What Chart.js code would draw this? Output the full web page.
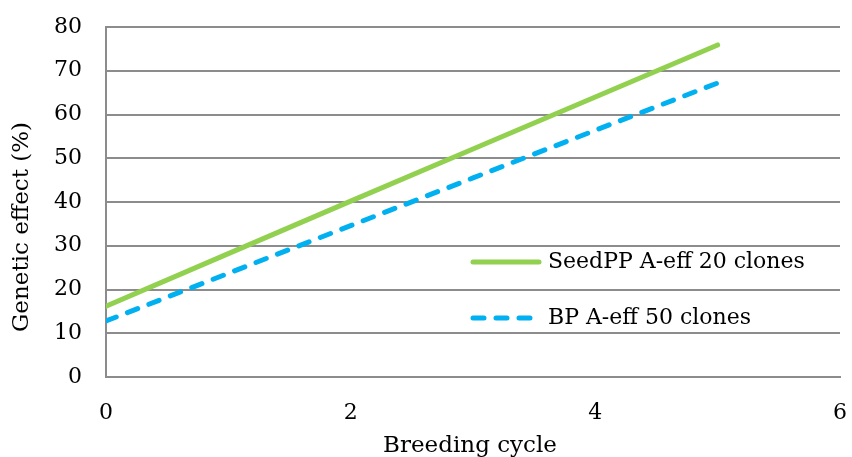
<!DOCTYPE html>
<html>
<head>
<meta charset="utf-8">
<script src="https://cdn.jsdelivr.net/npm/chart.js@4/dist/chart.umd.min.js"></script>
<style>
  body { margin: 0; background: #fff; }
  #wrap { width: 852px; height: 457px; }
</style>
</head>
<body>
<div id="wrap"><canvas id="c" width="852" height="457"></canvas></div>
<script>
const cycles = [0, 1, 2, 3, 4, 5];
const seedPP = [16.2, 28.2, 40.2, 52.1, 64.0, 75.9];
const bp = [12.8, 23.7, 34.6, 45.5, 56.4, 67.2];
const seriesNames = ["SeedPP A-eff 20 clones", "BP A-eff 50 clones"];
const xTitle = "Breeding cycle";
const yTitle = "Genetic effect (%)";
const xTicks = [0, 2, 4, 6];
const yTicks = [0, 10, 20, 30, 40, 50, 60, 70, 80];

const serif = "'DejaVu Serif', Georgia, serif";
const green = "#92d050";
const blue = "#00b0f0";
const grey = "#8c8c8c";

// legend inside the plot area and the two axis titles, drawn by hand
const extras = {
  id: "extras",
  afterDatasetsDraw(chart) {
    const ctx = chart.ctx;
    const rows = [
      { y: 262, color: green, dash: [], text: seriesNames[0] },
      { y: 318, color: blue, dash: [11, 12], text: seriesNames[1] },
    ];
    ctx.save();
    ctx.font = "22px " + serif;
    ctx.textBaseline = "middle";
    ctx.fillStyle = "#000";
    rows.forEach((r) => {
      ctx.beginPath();
      ctx.strokeStyle = r.color;
      ctx.lineWidth = 5;
      ctx.lineCap = "round";
      ctx.setLineDash(r.dash);
      ctx.moveTo(473, r.y);
      ctx.lineTo(539, r.y);
      ctx.stroke();
      ctx.setLineDash([]);
      ctx.fillText(r.text, 548, r.y);
    });

    ctx.font = "23px " + serif;
    ctx.textAlign = "center";
    ctx.fillText(xTitle, 470, 446);
    ctx.translate(22, 227);
    ctx.rotate(-Math.PI / 2);
    ctx.fillText(yTitle, 0, 0);
    ctx.restore();
  },
};

new Chart(document.getElementById("c"), {
  type: "line",
  data: {
    labels: cycles,
    datasets: [
      {
        label: seriesNames[0],
        data: cycles.map((c, i) => ({ x: c, y: seedPP[i] })),
        borderColor: green,
        borderWidth: 5,
        borderCapStyle: "round",
        pointRadius: 0,
        tension: 0,
      },
      {
        label: seriesNames[1],
        data: cycles.map((c, i) => ({ x: c, y: bp[i] })),
        borderColor: blue,
        borderWidth: 5,
        borderDash: [11, 12],
        borderCapStyle: "round",
        pointRadius: 0,
        tension: 0,
      },
    ],
  },
  options: {
    responsive: false,
    animation: false,
    layout: { padding: { top: 27, right: 12, left: 0, bottom: 0 } },
    plugins: { legend: { display: false }, tooltip: { enabled: false } },
    scales: {
      x: {
        type: "linear",
        min: 0,
        max: 6,
        afterBuildTicks: (s) => { s.ticks = xTicks.map((v) => ({ value: v })); },
        afterFit: (s) => { s.height = 80; s.paddingLeft = 0; s.paddingRight = 0; },
        grid: { display: false, drawTicks: false },
        border: { color: grey, width: 2 },
        ticks: { color: "#000", padding: 23, font: { family: serif, size: 22 } },
      },
      y: {
        min: 0,
        max: 80,
        afterBuildTicks: (s) => { s.ticks = yTicks.map((v) => ({ value: v })); },
        afterFit: (s) => { s.width = 106; s.paddingTop = 0; s.paddingBottom = 0; },
        grid: { color: grey, lineWidth: 2, drawTicks: false },
        border: { color: grey, width: 2 },
        ticks: { color: "#000", padding: 24, font: { family: serif, size: 22 } },
      },
    },
  },
  plugins: [extras],
});
</script>
</body>
</html>
